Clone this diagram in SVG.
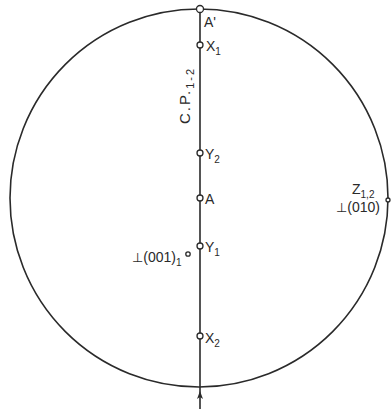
<svg xmlns="http://www.w3.org/2000/svg" width="391" height="409" viewBox="0 0 391 409">
<style>
.ln{stroke:#2a2a2a;stroke-width:1.6;fill:none}
.pt{stroke:#2a2a2a;stroke-width:1.3;fill:#fff}
text{font-family:"Liberation Sans",Arial,sans-serif;font-size:14px;fill:#2a2a2a}
.sub{font-size:10px}
.perp{font-family:"DejaVu Sans",sans-serif;font-size:13px}
</style>
<rect width="391" height="409" fill="#fff"/>
<g id="connectors">
<circle class="ln" cx="199" cy="198" r="189"/>
<line class="ln" x1="200" y1="9" x2="200" y2="409"/>
<path d="M200 391 L197 399 L200 397 L203 399 Z" fill="#2a2a2a"/>
</g>
<g id="A-prime"><circle class="pt" cx="200" cy="9" r="3.5"/><text x="204" y="27">A'</text></g>
<g id="X1"><circle class="pt" cx="200" cy="45" r="3"/><text x="206" y="51">X<tspan class="sub" dy="4">1</tspan></text></g>
<g id="CP"><text transform="translate(190,124) rotate(-90)" style="font-size:15px;letter-spacing:2px">C.P.<tspan class="sub" dy="4" style="font-size:11px">1-2</tspan></text></g>
<g id="Y2"><circle class="pt" cx="200" cy="153" r="3"/><text x="205" y="159">Y<tspan class="sub" dy="4">2</tspan></text></g>
<g id="A"><circle class="pt" cx="200" cy="198" r="3"/><text x="205" y="204">A</text></g>
<g id="Y1"><circle class="pt" cx="200" cy="246" r="3"/><text x="205" y="252">Y<tspan class="sub" dy="4">1</tspan></text></g>
<g id="P001"><circle class="pt" cx="188" cy="254" r="2.2"/><text x="132" y="262"><tspan class="perp">⊥</tspan>(001)<tspan class="sub" dy="4">1</tspan></text></g>
<g id="X2"><circle class="pt" cx="200" cy="336" r="3"/><text x="205" y="343">X<tspan class="sub" dy="4">2</tspan></text></g>
<g id="Z12"><circle class="pt" cx="388" cy="200" r="2"/><text x="352" y="194">Z<tspan class="sub" dy="4">1,2</tspan></text><text x="336" y="212"><tspan class="perp">⊥</tspan>(010)</text></g>
</svg>
